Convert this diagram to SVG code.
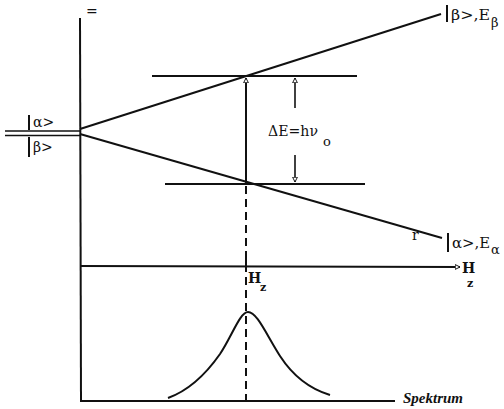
<svg xmlns="http://www.w3.org/2000/svg" width="504" height="409" viewBox="0 0 504 409">
<defs>
<style>
.ln{stroke:#111;stroke-width:2;fill:none}
.thin{stroke:#111;stroke-width:1.6;fill:none}
.t{font-family:"DejaVu Serif","Liberation Serif",serif;font-size:14px;fill:#111}
.s{font-family:"DejaVu Serif","Liberation Serif",serif;font-size:11px;fill:#111;font-weight:bold}
</style>
<marker id="oa" viewBox="0 0 10 10" refX="9" refY="5" markerWidth="6" markerHeight="6" orient="auto-start-reverse" markerUnits="userSpaceOnUse">
<path d="M1,1 L9,5 L1,9 Z" fill="#fff" stroke="#111" stroke-width="1.6"/>
</marker>
</defs>
<rect width="504" height="409" fill="#fff"/>
<g id="axes">
<line class="ln" x1="80" y1="18" x2="81" y2="402"/>
<line class="ln" x1="80" y1="401" x2="395" y2="401"/>
<line class="ln" x1="80" y1="266" x2="460" y2="267" marker-end="url(#oa)"/>
<line class="ln" x1="246" y1="253" x2="246" y2="266"/>
<text class="t" x="86" y="16" font-size="10">=</text>
</g>
<g id="left-levels">
<line class="thin" x1="5" y1="131" x2="80" y2="131"/>
<line class="thin" x1="5" y1="135.5" x2="80" y2="135.5"/>
<line class="ln" x1="29" y1="115" x2="29" y2="130"/>
<line class="ln" x1="29" y1="137" x2="29" y2="157"/>
<text class="t" x="33" y="127" font-size="13">α&gt;</text>
<text class="t" x="33" y="152" font-size="13">β&gt;</text>
</g>
<g id="beta-level">
<line class="ln" x1="80" y1="129" x2="441" y2="14"/>
<line class="ln" x1="447" y1="5" x2="447" y2="22"/>
<text class="t" x="451" y="20"><tspan textLength="39" lengthAdjust="spacingAndGlyphs">β&gt;,E</tspan><tspan dx="1" dy="7" font-size="13">β</tspan></text>
</g>
<g id="alpha-level">
<line class="ln" x1="80" y1="134" x2="442" y2="238"/>
<text class="t" x="412" y="240" font-size="9">r</text>
<line class="ln" x1="448" y1="233" x2="448" y2="252"/>
<text class="t" x="452" y="248"><tspan textLength="38" lengthAdjust="spacingAndGlyphs">α&gt;,E</tspan><tspan dx="1" dy="6" font-size="13">α</tspan></text>
</g>
<g id="hz-label">
<text class="t" x="248" y="283" font-weight="bold">H</text>
<text class="s" x="260" y="291">z</text>
<text class="t" x="462" y="273" font-weight="bold">H</text>
<text class="s" x="467" y="287">z</text>
</g>
<g id="transition">
<line class="ln" x1="152" y1="76" x2="357" y2="76"/>
<line class="ln" x1="165" y1="184" x2="365" y2="184"/>
<line class="ln" x1="246" y1="184" x2="246" y2="78" marker-end="url(#oa)"/>
<line class="thin" x1="295" y1="108" x2="295" y2="78" marker-end="url(#oa)"/>
<line class="thin" x1="295" y1="155" x2="295" y2="182" marker-end="url(#oa)"/>
<text class="t" x="268" y="136"><tspan textLength="50" lengthAdjust="spacingAndGlyphs">ΔE=hν</tspan><tspan dx="5" dy="10" font-size="13">o</tspan></text>
</g>
<g id="spectrum">
<line class="ln" x1="246" y1="186" x2="246" y2="401" stroke-dasharray="8,5"/>
<path class="ln" d="M168,398 C190,390 206,374 220,354 C232,336 240,312 248,312 C257,312 266,334 280,356 C293,376 310,389 330,395"/>
<text x="403" y="403" font-family="Liberation Serif,serif" font-style="italic" font-weight="bold" font-size="15" fill="#111">Spektrum</text>
</g>
</svg>
